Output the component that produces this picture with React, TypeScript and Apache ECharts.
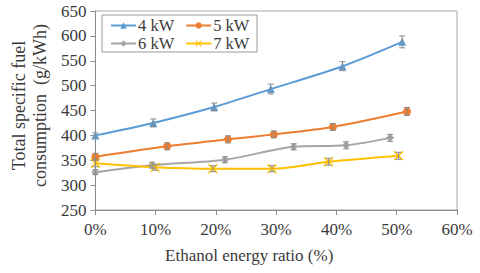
import React, { useEffect, useRef } from 'react';
import * as echarts from 'echarts';

const seriesNames = ['4 kW', '5 kW', '6 kW', '7 kW'];
const xTickValues = [0, 10, 20, 30, 40, 50, 60];
const ratio4 = [0, 9.6, 19.7, 29.1, 41.0, 50.9];
const sfc4 = [400, 425, 457, 493, 539, 588];
const err4 = [5, 8, 8, 10, 9, 12];
const ratio5 = [0, 11.9, 22.0, 29.6, 39.4, 51.7];
const sfc5 = [357, 378, 392, 402, 417, 448];
const err5 = [7, 7, 7, 7, 7, 8];
const ratio6 = [0, 9.4, 21.5, 32.9, 41.6, 48.9];
const sfc6 = [326, 340, 351, 377, 380, 395];
const err6 = [5, 6, 6, 6, 7, 7];
const ratio7 = [0, 9.9, 19.5, 29.3, 38.7, 50.3];
const sfc7 = [344, 336, 333, 333, 347, 359];
const err7 = [7, 6, 6, 6, 7, 7];

const colors = ['#5B9BD5', '#ED7D31', '#A5A5A5', '#FFC000'];
const symbols = [
  'triangle',
  'circle',
  'diamond',
  'path://M0,1L1,0L5,4L9,0L10,1L6,5L10,9L9,10L5,6L1,10L0,9L4,5Z',
];
const symbolSizes = [8, 8, 8, 10];

const FONT = "'Liberation Serif', 'Times New Roman', serif";
const TEXT = '#3a3a3a';

export default function App() {
  const ref = useRef<HTMLDivElement>(null);
  useEffect(() => {
    if (!ref.current) return;
    const chart = echarts.init(ref.current, undefined, { renderer: 'svg' });
    const groups = [
      [ratio4, sfc4, err4],
      [ratio5, sfc5, err5],
      [ratio6, sfc6, err6],
      [ratio7, sfc7, err7],
    ];
    const lineSeries: any[] = groups.map((g, i) => ({
      type: 'line',
      name: seriesNames[i],
      data: g[0].map((x, j) => [x, g[1][j]]),
      smooth: 0.3,
      symbol: symbols[i],
      symbolSize: symbolSizes[i],
      showAllSymbol: true,
      lineStyle: { color: colors[i], width: 2 },
      itemStyle: { color: colors[i] },
      z: 3,
    }));
    const errSeries: any[] = groups.map((g, i) => ({
      type: 'custom',
      name: 'err' + i,
      data: g[0].map((x, j) => [x, g[1][j] - g[2][j], g[1][j] + g[2][j]]),
      encode: { x: 0, y: [1, 2] },
      z: 4,
      renderItem: (params: any, api: any) => {
        const x = api.value(0);
        const p1 = api.coord([x, api.value(2)]);
        const p2 = api.coord([x, api.value(1)]);
        const w = 3;
        const st = { stroke: '#8a8a8a', lineWidth: 1 };
        return {
          type: 'group',
          children: [
            { type: 'line', shape: { x1: p1[0], y1: p1[1], x2: p2[0], y2: p2[1] }, style: st },
            { type: 'line', shape: { x1: p1[0] - w, y1: p1[1], x2: p1[0] + w, y2: p1[1] }, style: st },
            { type: 'line', shape: { x1: p2[0] - w, y1: p2[1], x2: p2[0] + w, y2: p2[1] }, style: st },
          ],
        };
      },
    }));
    const legendCommon = {
      orient: 'horizontal',
      itemWidth: 25,
      itemHeight: 8,
      itemGap: 11,
      padding: 0,
      textStyle: { fontFamily: FONT, fontSize: 16.5, color: TEXT, padding: [0, 0, 0, -3] },
      z: 6,
    };
    chart.setOption({
      animation: false,
      backgroundColor: '#ffffff',
      grid: {
        left: 94,
        right: 23,
        top: 11,
        bottom: 63,
        show: true,
        borderColor: '#a6a6a6',
        borderWidth: 1,
      },
      legend: [
        { ...legendCommon, data: seriesNames.slice(0, 2), left: 110, top: 17 },
        { ...legendCommon, data: seriesNames.slice(2, 4), left: 110, top: 35 },
      ],
      graphic: [
        {
          type: 'rect',
          shape: { x: 102, y: 15, width: 155, height: 37 },
          style: { fill: '#ffffff', stroke: '#9a9a9a', lineWidth: 1 },
          z: 5,
        },
      ],
      xAxis: {
        type: 'value',
        min: xTickValues[0],
        max: xTickValues[xTickValues.length - 1],
        interval: 10,
        name: 'Ethanol energy ratio (%)',
        nameLocation: 'middle',
        nameGap: 37,
        nameTextStyle: { fontFamily: FONT, fontSize: 17, color: TEXT, padding: [0, 54, 0, 0] },
        axisLine: { lineStyle: { color: '#8c8c8c', width: 1 } },
        axisTick: { show: true, length: 5, lineStyle: { color: '#8c8c8c' } },
        axisLabel: { formatter: '{value}%', fontFamily: FONT, fontSize: 17, color: TEXT, margin: 11 },
        splitLine: { show: false },
      },
      yAxis: {
        type: 'value',
        min: 250,
        max: 650,
        interval: 50,
        name: 'Total specific fuel\nconsumption  (g/kWh)',
        nameLocation: 'middle',
        nameGap: 45,
        nameTextStyle: { fontFamily: FONT, fontSize: 18, color: TEXT, lineHeight: 21, padding: [0, 0, 0, 10] },
        axisLine: { show: true, lineStyle: { color: '#8c8c8c', width: 1 } },
        axisTick: { show: true, length: 5, lineStyle: { color: '#8c8c8c' } },
        axisLabel: { fontFamily: FONT, fontSize: 17, color: TEXT, margin: 9 },
        splitLine: { show: false },
      },
      series: [...lineSeries, ...errSeries],
    });
    return () => chart.dispose();
  }, []);
  return (
    <div
      ref={ref}
      style={{ position: 'absolute', left: 0, top: 0, width: 480, height: 273 }}
    />
  );
}
